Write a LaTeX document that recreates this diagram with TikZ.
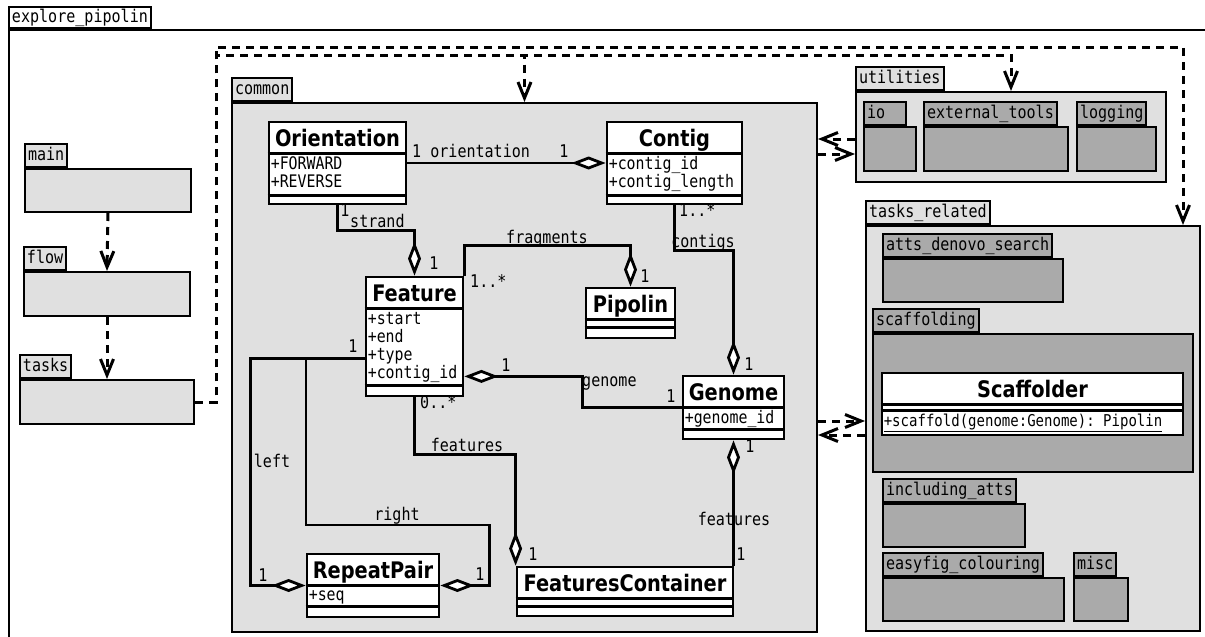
\documentclass[tikz,border=0pt]{standalone}
\usepackage{fontspec}
\setmainfont{DejaVu Sans}[FakeStretch=0.85]
\setmonofont{DejaVu Sans Mono}[FakeStretch=0.86]
\usetikzlibrary{arrows.meta,fit,positioning}

\definecolor{pkglight}{HTML}{E0E0E0}
\definecolor{pkgdark}{HTML}{AAAAAA}

\tikzset{
  pkgbody/.style={draw, line width=2pt, fill=pkglight, inner sep=0pt},
  subbody/.style={pkgbody, fill=pkgdark},
  pkgtab/.style={draw, line width=2pt, fill=pkglight, anchor=south west,
    inner xsep=3pt, inner ysep=0pt, minimum height=23pt,
    text height=13.5pt, text depth=4pt, font=\ttfamily\fontsize{17.5}{20}\selectfont},
  subtab/.style={pkgtab, fill=pkgdark},
  umlclass/.style={draw, line width=2.8pt, fill=white, inner sep=0pt},
  umlsep/.style={line width=2.8pt},
  classname/.style={anchor=base, inner sep=0pt, font=\bfseries\fontsize{22.8}{26}\selectfont},
  attr/.style={anchor=mid west, inner sep=0pt, font=\ttfamily\fontsize{17.3}{19}\selectfont},
  lbl/.style={anchor=mid, inner sep=0pt, font=\ttfamily\fontsize{17.5}{20}\selectfont},
  aggr/.style={line width=2.8pt, arrows={Diamond[fill=white,length=34pt,width=13pt]-}},
  depend/.style={line width=3pt, dash pattern=on 8pt off 6pt,
    arrows={-Straight Barb[length=16pt,width=13pt]}}
}

\begin{document}
\begin{tikzpicture}[x=1pt,y=-1pt]
	\useasboundingbox (0,0) rectangle (1205,637);
	\clip (0,0) rectangle (1205,637);
	
	% outer package
	\node[pkgbody, fill=white, fit={(9,30) (1240,680)}] (explore) {};
	\node[pkgtab, fill=white, minimum height=21pt, text depth=2.5pt] (exploretab) at (explore.north west) {explore\_pipolin};
	
	% left column
	\node[pkgbody, fit={(25,169) (191,212)}] (main) {};
	\node[pkgtab] (maintab) at (main.north west) {main};
	\node[pkgbody, fit={(24,272) (190,316)}] (flow) {};
	\node[pkgtab] (flowtab) at (flow.north west) {flow};
	\node[pkgbody, fit={(20,380) (194,424)}] (tasks) {};
	\node[pkgtab] (taskstab) at (tasks.north west) {tasks};
	
	% common
	\node[pkgbody, fit={(232,103) (817,632)}] (common) {};
	\node[pkgtab] (commontab) at (common.north west) {common};
	
	% utilities
	\node[pkgbody, fit={(856,92) (1166,182)}] (utilities) {};
	\node[pkgtab] (utilitiestab) at (utilities.north west) {utilities};
	\node[subbody, fit={(864,127) (916,171)}] (io) {};
	\node[subtab, text width=36pt] (iotab) at (io.north west) {io};
	\node[subbody, fit={(924,127) (1068,171)}] (externaltools) {};
	\node[subtab] (externaltoolstab) at (externaltools.north west) {external\_tools};
	\node[subbody, fit={(1077,127) (1156,171)}] (logging) {};
	\node[subtab] (loggingtab) at (logging.north west) {logging};
	
	% tasks_related
	\node[pkgbody, fit={(866,226) (1200,631)}] (tasksrel) {};
	\node[pkgtab] (tasksreltab) at (tasksrel.north west) {tasks\_related};
	\node[subbody, fit={(883,259) (1063,302)}] (denovo) {};
	\node[subtab] (denovotab) at (denovo.north west) {atts\_denovo\_search};
	\node[subbody, fit={(873,334) (1193,472)}] (scaffolding) {};
	\node[subtab] (scaffoldingtab) at (scaffolding.north west) {scaffolding};
	\node[subbody, fit={(883,504) (1025,547)}] (including) {};
	\node[subtab] (includingtab) at (including.north west) {including\_atts};
	\node[subbody, fit={(883,578) (1064,621)}] (easyfig) {};
	\node[subtab] (easyfigtab) at (easyfig.north west) {easyfig\_colouring};
	\node[subbody, fit={(1074,578) (1128,621)}] (misc) {};
	\node[subtab] (misctab) at (misc.north west) {misc};
	
	% Scaffolder
	\node[umlclass, fit={(882,373) (1183,435)}] (scaffolder) {};
	\node[classname] (scaffoldername) at ([yshift=-25.5pt]scaffolder.north) {Scaffolder};
	\draw[umlsep] ([yshift=-33pt]scaffolder.north west) -- ([yshift=-33pt]scaffolder.north east);
	\draw[umlsep] ([yshift=-39pt]scaffolder.north west) -- ([yshift=-39pt]scaffolder.north east);
	\node[attr, font=\ttfamily\fontsize{16.3}{19}\selectfont] (scaffoldop) at ([xshift=3pt,yshift=-52pt]scaffolder.north west) {\underline{+scaffold(genome:Genome): Pipolin}};
	
	% classes of common
	\node[umlclass, fit={(269,122) (406,204)}] (orientation) {};
	\node[classname] (orientationname) at ([yshift=-25.5pt]orientation.north) {Orientation};
	\draw[umlsep] ([yshift=-33pt]orientation.north west) -- ([yshift=-33pt]orientation.north east);
	\draw[umlsep] ([yshift=-75pt]orientation.north west) -- ([yshift=-75pt]orientation.north east);
	\node[attr] (forward) at ([xshift=3pt,yshift=-46pt]orientation.north west) {+FORWARD};
	\node[attr] (reverse) at ([xshift=3pt,yshift=-64pt]orientation.north west) {+REVERSE};
	
	\node[umlclass, fit={(607,122) (742,204)}] (contig) {};
	\node[classname] (contigname) at ([yshift=-25.5pt]contig.north) {Contig};
	\draw[umlsep] ([yshift=-33pt]contig.north west) -- ([yshift=-33pt]contig.north east);
	\draw[umlsep] ([yshift=-75pt]contig.north west) -- ([yshift=-75pt]contig.north east);
	\node[attr] (contigid) at ([xshift=3pt,yshift=-46pt]contig.north west) {+contig\_id};
	\node[attr] (contiglength) at ([xshift=3pt,yshift=-64pt]contig.north west) {+contig\_length};
	
	\node[umlclass, fit={(366,277) (463,396)}] (feature) {};
	\node[classname] (featurename) at ([yshift=-25.5pt]feature.north) {Feature};
	\draw[umlsep] ([yshift=-33pt]feature.north west) -- ([yshift=-33pt]feature.north east);
	\draw[umlsep] ([yshift=-110pt]feature.north west) -- ([yshift=-110pt]feature.north east);
	\node[attr] (fstart) at ([xshift=3pt,yshift=-46.5pt]feature.north west) {+start};
	\node[attr] (fend) at ([xshift=3pt,yshift=-64.5pt]feature.north west) {+end};
	\node[attr] (ftype) at ([xshift=3pt,yshift=-82.5pt]feature.north west) {+type};
	\node[attr] (fcontig) at ([xshift=3pt,yshift=-100.5pt]feature.north west) {+contig\_id};
	
	\node[umlclass, fit={(586,288) (675,338)}] (pipolin) {};
	\node[classname] (pipolinname) at ([yshift=-25.5pt]pipolin.north) {Pipolin};
	\draw[umlsep] ([yshift=-33pt]pipolin.north west) -- ([yshift=-33pt]pipolin.north east);
	\draw[umlsep] ([yshift=-41pt]pipolin.north west) -- ([yshift=-41pt]pipolin.north east);
	
	\node[umlclass, fit={(683,376) (784,439)}] (genome) {};
	\node[classname] (genomename) at ([yshift=-25.5pt]genome.north) {Genome};
	\draw[umlsep] ([yshift=-33pt]genome.north west) -- ([yshift=-33pt]genome.north east);
	\draw[umlsep] ([yshift=-55pt]genome.north west) -- ([yshift=-55pt]genome.north east);
	\node[attr] (genomeid) at ([xshift=3pt,yshift=-46.5pt]genome.north west) {+genome\_id};
	
	\node[umlclass, fit={(517,567) (733,616)}] (fc) {};
	\node[classname] (fcname) at ([yshift=-25.5pt]fc.north) {FeaturesContainer};
	\draw[umlsep] ([yshift=-33pt]fc.north west) -- ([yshift=-33pt]fc.north east);
	\draw[umlsep] ([yshift=-41pt]fc.north west) -- ([yshift=-41pt]fc.north east);
	
	\node[umlclass, fit={(307,554) (439,617)}] (repeatpair) {};
	\node[classname] (repeatpairname) at ([yshift=-25.5pt]repeatpair.north) {RepeatPair};
	\draw[umlsep] ([yshift=-33pt]repeatpair.north west) -- ([yshift=-33pt]repeatpair.north east);
	\draw[umlsep] ([yshift=-54pt]repeatpair.north west) -- ([yshift=-54pt]repeatpair.north east);
	\node[attr] (rpseq) at ([xshift=3pt,yshift=-45.5pt]repeatpair.north west) {+seq};
	
	% associations
	\coordinate (featgen) at ([yshift=21pt]feature.south east);
	\coordinate (featrep) at ([yshift=39pt]feature.south west);
	
	\draw[aggr] (contig.west) -- (orientation.east);
	\draw[aggr] (feature.north) -- ++(0,-45) -| (orientation.south);
	\draw[aggr] (pipolin.north) -- ++(0,-41) -| (feature.north east);
	\draw[aggr] (genome.north) -- ++(0,-124) -| (contig.south);
	\draw[aggr] (featgen) -- ++(118,0) |- (genome.west);
	\draw[aggr] (fc.north west) -- ++(0,-111) -| (feature.south);
	\draw[aggr] (genome.south) -- (genome.south |- fc.north);
	\draw[aggr] (repeatpair.west) -- ++(-55,0) |- (featrep);
	\draw[aggr] (repeatpair.east) -- ++(49,0) |- (306,525) |- (featrep);
	
	\node[lbl, anchor=mid west] (lorient) at (412,155) {1 orientation};
	\node[lbl] (lorientc) at (564,155) {1};
	\node[lbl] (lstrando) at (345,214) {1};
	\node[lbl, anchor=mid west] (lstrand) at (350,225) {strand};
	\node[lbl] (lstrandf) at (434,267) {1};
	\node[lbl] (lfrag) at (547,241) {fragments};
	\node[lbl, anchor=mid west] (lfragf) at (470,285) {1..*};
	\node[lbl] (lfragp) at (645,280) {1};
	\node[lbl, anchor=mid west] (lcontigsc) at (679,214) {1..*};
	\node[lbl] (lcontigs) at (703,245) {contigs};
	\node[lbl] (lcontigsg) at (749,368) {1};
	\node[lbl] (lgenomef) at (506,369) {1};
	\node[lbl, anchor=mid west] (lgenome) at (582,384) {genome};
	\node[lbl] (lgenomeg) at (671,400) {1};
	\node[lbl, anchor=mid west] (lfeatf) at (420,406) {0..*};
	\node[lbl] (lfeat) at (467,449) {features};
	\node[lbl] (lfeatc) at (533,558) {1};
	\node[lbl] (lfeatg) at (750,450) {1};
	\node[lbl] (lfeattwo) at (734,523) {features};
	\node[lbl] (lfeatcc) at (741,558) {1};
	\node[lbl] (lleftf) at (353,350) {1};
	\node[lbl] (lleft) at (272,465) {left};
	\node[lbl] (lleftr) at (263,579) {1};
	\node[lbl] (lright) at (397,518) {right};
	\node[lbl] (lrightr) at (480,578) {1};
	
	% package dependencies
	\coordinate (trtop) at ([xshift=-18pt]tasksrel.north east);
	\coordinate (uc1) at ([yshift=-2pt]utilities.west);
	\coordinate (uc2) at ([yshift=-17pt]utilities.west);
	\coordinate (tc1) at ([yshift=7.5pt]tasksrel.west);
	\coordinate (tc2) at ([yshift=-6.5pt]tasksrel.west);
	
	\draw[depend] (main.south) -- (flow.north);
	\draw[depend] (flow.south) -- (tasks.north);
	\draw[depend] (tasks.east) -- ++(21,0) -- ++(0,-355) -| (trtop);
	\draw[depend] (tasks.east) -- ++(21,0) -- ++(0,-347) -| (utilities.north);
	\draw[depend] (tasks.east) -- ++(21,0) -- ++(0,-347) -| (common.north);
	\draw[depend] (uc1) -- (uc1 -| common.east);
	\draw[depend] (uc2 -| common.east) -- (uc2);
	\draw[depend] (tc1 -| common.east) -- (tc1);
	\draw[depend] (tc2) -- (tc2 -| common.east);
\end{tikzpicture}
\end{document}
